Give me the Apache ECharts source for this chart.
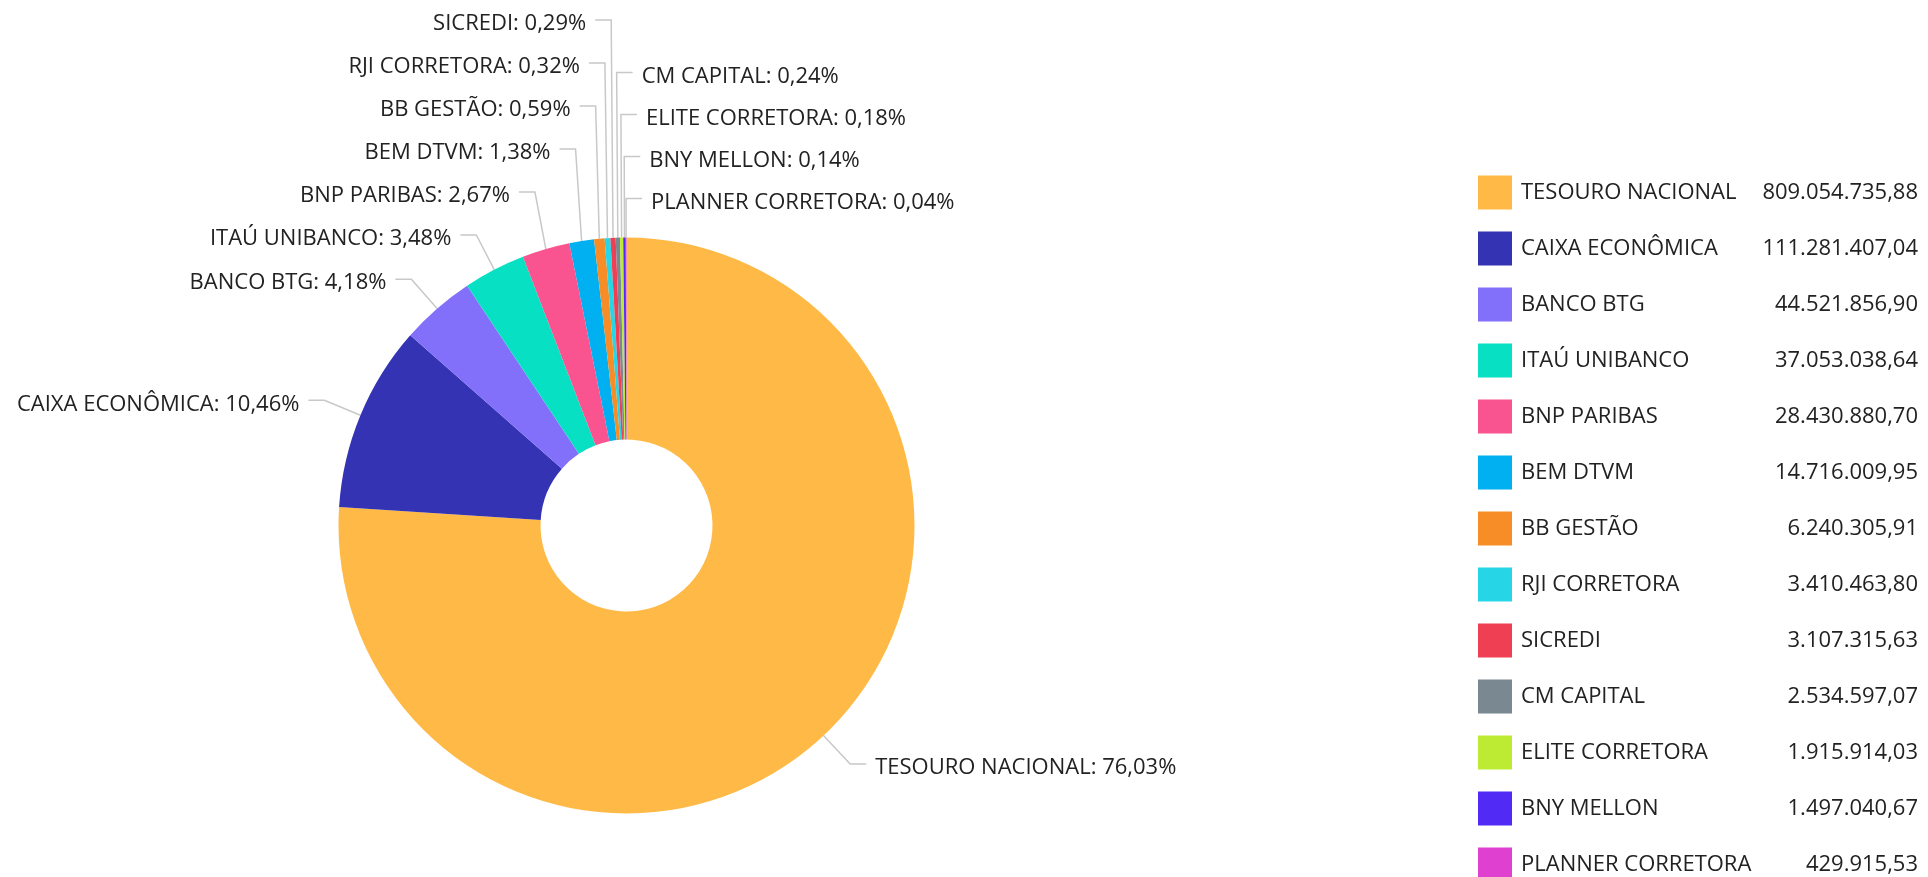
<!DOCTYPE html>
<html>
<head>
<meta charset="utf-8">
<script src="https://cdn.jsdelivr.net/npm/echarts@6/dist/echarts.min.js"></script>
<style>
html,body{margin:0;padding:0;background:#fff;}
#chart{width:1928px;height:877px;}
</style>
</head>
<body>
<div id="chart"></div>
<script>
const categories = ['TESOURO NACIONAL', 'CAIXA ECONÔMICA', 'BANCO BTG', 'ITAÚ UNIBANCO', 'BNP PARIBAS', 'BEM DTVM', 'BB GESTÃO', 'RJI CORRETORA', 'SICREDI', 'CM CAPITAL', 'ELITE CORRETORA', 'BNY MELLON', 'PLANNER CORRETORA'];
const values = [809054735.88, 111281407.04, 44521856.90, 37053038.64, 28430880.70, 14716009.95, 6240305.91, 3410463.80, 3107315.63, 2534597.07, 1915914.03, 1497040.67, 429915.53];
const colors = ['#FFB946', '#3333B3', '#8370FA', '#08E0C4', '#FA5490', '#00B0F0', '#F78D26', '#26D6E6', '#EF3F52', '#7A8891', '#BDEB33', '#512BF5', '#E040D0'];
const rightSideLabels = ['CM CAPITAL', 'ELITE CORRETORA', 'BNY MELLON', 'PLANNER CORRETORA'];

// layout constants
const CX = 626.5, CY = 525.5, R0 = 86, R = 288;
const LEN = 39, LEN2 = 16, TEXT_GAP = 9, TEXT_DY = 4;
const STACK_GAP_LEFT = 43, STACK_GAP_RIGHT = 42;
const FONT = "'Open Sans', 'Noto Sans', sans-serif";

function fmtBR(v) {
  const parts = v.toFixed(2).split('.');
  const intPart = parts[0].replace(/\B(?=(\d{3})+(?!\d))/g, '.');
  return intPart + ',' + parts[1];
}

// label placement (computed from data and pie geometry)
const total = values.reduce((a, b) => a + b, 0);
let cum = 0;
const labelInfo = values.map((v, i) => {
  const mid = (cum + v / 2) / total;
  cum += v;
  const th = mid * 2 * Math.PI;
  const s = Math.sin(th), c = Math.cos(th);
  const right = s > 0 || rightSideLabels.indexOf(categories[i]) >= 0;
  const thDeg = mid * 360;
  return {
    i, s, c, right,
    order: right ? (thDeg < 180 ? thDeg : thDeg - 360) : thDeg,
    p0: [CX + R * s, CY - R * c],
    bx: CX + (R + LEN) * s,
    ny: CY - (R + LEN) * c
  };
});
function stack(list, gap) {
  let prev = null;
  list.forEach(L => {
    L.y = prev == null ? L.ny : Math.min(L.ny, prev - gap);
    prev = L.y;
  });
}
stack(labelInfo.filter(L => L.right).sort((a, b) => b.order - a.order), STACK_GAP_RIGHT);
stack(labelInfo.filter(L => !L.right).sort((a, b) => a.order - b.order), STACK_GAP_LEFT);
labelInfo.forEach(L => {
  L.ex = L.bx + (L.right ? LEN2 : -LEN2);
  L.tx = L.ex + (L.right ? TEXT_GAP : -TEXT_GAP);
});

const chart = echarts.init(document.getElementById('chart'));
chart.setOption({
  animation: false,
  color: colors,
  textStyle: { fontFamily: FONT },
  legend: {
    type: 'plain',
    orient: 'vertical',
    left: 1478,
    top: 175.5,
    height: 760,
    padding: 0,
    itemWidth: 34,
    itemHeight: 34,
    itemGap: 22,
    icon: 'rect',
    data: categories,
    formatter: function (name) {
      const idx = categories.indexOf(name);
      return '{a|' + name + '}{b|' + fmtBR(values[idx]) + '}';
    },
    textStyle: {
      fontFamily: FONT,
      fontSize: 22,
      color: '#222',
      rich: {
        a: { fontFamily: FONT, fontSize: 22, color: '#222', width: 236, padding: [0, 0, 0, 4] },
        b: { fontFamily: FONT, fontSize: 22, color: '#222', width: 161, align: 'right' }
      }
    }
  },
  series: [{
    type: 'pie',
    center: [CX, CY],
    radius: [R0, R],
    startAngle: 90,
    clockwise: true,
    avoidLabelOverlap: false,
    data: categories.map((n, i) => ({ name: n, value: values[i] })),
    label: {
      show: true,
      fontFamily: FONT,
      fontSize: 22,
      color: '#222',
      formatter: function (p) {
        return p.name + ': ' + p.percent.toFixed(2).replace('.', ',') + '%';
      }
    },
    labelLine: {
      show: true,
      length: LEN,
      length2: LEN2,
      lineStyle: { color: '#c8c8c8', width: 1.5 }
    },
    labelLayout: function (params) {
      const L = labelInfo[params.dataIndex];
      return {
        x: L.tx,
        y: L.y + TEXT_DY,
        align: L.right ? 'left' : 'right',
        verticalAlign: 'middle',
        labelLinePoints: [L.p0, [L.bx, L.y], [L.ex, L.y]]
      };
    },
    emphasis: { scale: false }
  }]
});
</script>
</body>
</html>
